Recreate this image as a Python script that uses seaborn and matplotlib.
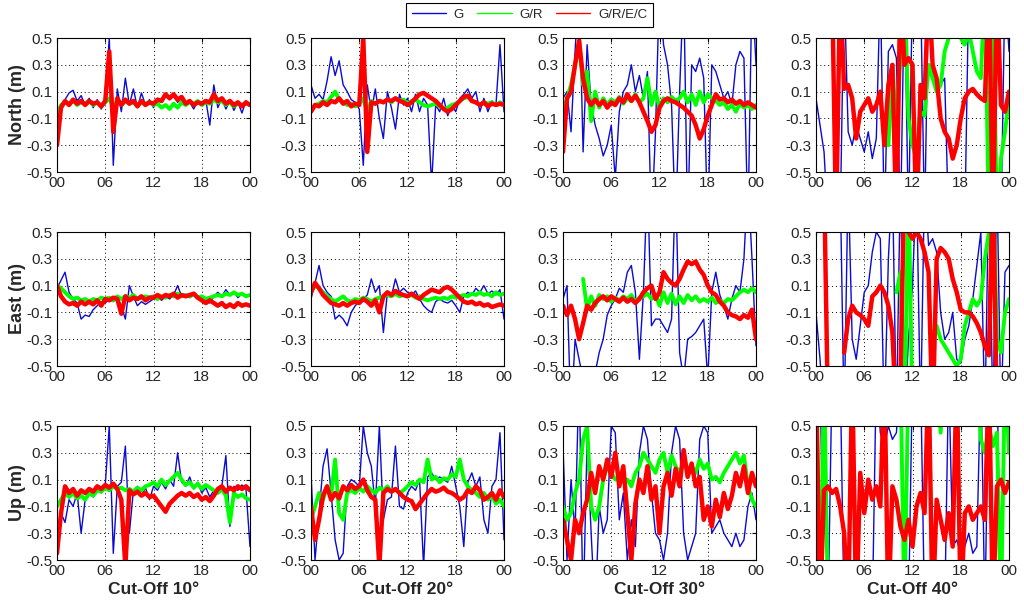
import numpy as np
import matplotlib
matplotlib.use("Agg")
import matplotlib.pyplot as plt
from matplotlib.lines import Line2D
import seaborn as sns

nan = float("nan")

ROW_LABELS = ["North (m)", "East (m)", "Up (m)"]
COL_LABELS = ["Cut-Off 10°", "Cut-Off 20°", "Cut-Off 30°", "Cut-Off 40°"]
SYSTEMS = ["G", "G/R", "G/R/E/C"]
X_TICKS = [0, 6, 12, 18, 24]
X_TICK_LABELS = ["00", "06", "12", "18", "00"]
Y_TICKS = [-0.5, -0.3, -0.1, 0.1, 0.3, 0.5]
Y_TICK_LABELS = ["-0.5", "-0.3", "-0.1", "0.1", "0.3", "0.5"]

# Half-hourly position errors (m), 00h .. 24h (49 values each)
# ---------------- North ----------------
N10_G = [-0.28, -0.02, 0.04, 0.09, 0.11, 0.03, 0.07, 0.00,
         0.05, -0.02, 0.04, -0.03, 0.03, 0.50, -0.45, 0.12,
         -0.05, 0.20, 0.00, 0.12, -0.02, 0.09, 0.00, 0.04,
         -0.02, 0.05, 0.02, 0.08, 0.04, 0.07, 0.02, 0.05,
         0.00, 0.02, -0.03, 0.03, 0.00, 0.04, -0.15, 0.15,
         -0.02, 0.05, -0.03, 0.03, -0.04, 0.02, -0.06, 0.03,
         0.00]
N10_GR = [-0.08, 0.00, 0.02, 0.01, 0.03, 0.00, 0.02, 0.01,
          0.03, 0.00, 0.02, -0.01, 0.02, 0.05, -0.02, 0.03,
          0.00, 0.03, 0.01, 0.02, 0.00, 0.03, 0.01, 0.02,
          0.00, 0.01, -0.02, 0.00, -0.03, 0.01, -0.02, 0.02,
          0.00, 0.02, 0.01, 0.03, 0.00, 0.02, 0.01, 0.04,
          0.02, 0.03, 0.00, 0.02, -0.01, 0.01, 0.00, 0.01,
          0.00]
N10_GREC = [-0.30, -0.02, 0.03, 0.00, 0.04, 0.01, 0.03, 0.00,
            0.03, 0.01, 0.02, -0.01, 0.03, 0.40, -0.20, 0.05,
            0.00, 0.04, 0.01, 0.03, -0.01, 0.03, 0.00, 0.02,
            0.01, 0.04, 0.03, 0.08, 0.05, 0.08, 0.04, 0.06,
            0.01, 0.03, 0.00, 0.02, 0.01, 0.03, 0.02, 0.08,
            0.03, 0.05, 0.01, 0.03, 0.00, 0.02, -0.01, 0.02,
            0.00]

N20_G = [0.15, 0.05, 0.08, 0.04, 0.18, 0.36, 0.22, 0.33,
         0.15, 0.10, 0.04, 0.02, -0.03, -0.45, 0.15, -0.05,
         0.12, -0.10, -0.25, 0.10, -0.02, -0.18, 0.08, 0.00,
         0.05, -0.05, 0.08, -0.05, 0.05, 0.00, -0.60, 0.00,
         -0.05, 0.05, -0.08, 0.00, -0.05, 0.05, 0.08, 0.12,
         0.05, 0.10, -0.05, 0.05, -0.05, 0.03, 0.00, 0.45,
         -0.05]
N20_GR = [-0.05, 0.00, 0.01, 0.03, 0.02, 0.06, 0.10, 0.04,
          0.02, 0.00, 0.01, -0.01, 0.01, 0.05, -0.05, 0.03,
          0.01, 0.03, 0.02, 0.04, 0.02, 0.05, 0.03, 0.04,
          0.01, 0.03, 0.04, 0.02, 0.00, -0.01, 0.00, 0.01,
          -0.01, -0.03, -0.02, 0.00, 0.01, 0.03, 0.05, 0.06,
          0.03, 0.02, 0.00, 0.02, 0.01, 0.02, 0.00, 0.02,
          0.00]
N20_GREC = [-0.05, 0.00, -0.01, 0.02, 0.00, 0.03, 0.02, 0.05,
            0.01, 0.03, -0.01, 0.01, 0.00, 0.50, -0.35, 0.02,
            0.01, 0.03, 0.02, 0.04, 0.03, 0.05, 0.03, 0.02,
            0.00, 0.02, 0.05, 0.08, 0.09, 0.07, 0.05, 0.03,
            0.00, -0.03, -0.05, -0.03, 0.00, 0.03, 0.06, 0.07,
            0.03, 0.02, 0.00, 0.02, -0.01, 0.01, 0.00, 0.01,
            0.00]

N30_G = [0.05, 0.10, -0.20, 0.40, 0.90, -0.35, 0.45, 0.00,
         -0.15, -0.25, -0.38, -0.30, -0.15, -0.55, -0.05, 0.10,
         0.15, 0.30, 0.10, 0.22, 0.05, 0.25, -0.90, -0.20,
         0.90, 0.45, 0.30, 0.00, -0.90, 0.10, 0.90, -0.90,
         0.30, 0.25, 0.35, 0.20, -0.90, 0.30, 0.25, 0.15,
         0.05, 0.10, 0.00, 0.30, 0.40, 0.35, -0.90, 0.90,
         0.30]
N30_GR = [-0.05, 0.05, 0.15, 0.30, 0.45, 0.15, 0.25, -0.12,
          0.10, -0.02, 0.05, 0.00, 0.04, 0.02, 0.06, 0.01,
          0.05, 0.03, 0.08, 0.02, 0.05, 0.20, 0.00, 0.10,
          -0.02, 0.05, 0.02, 0.06, 0.03, 0.05, 0.10, 0.02,
          0.08, 0.00, 0.10, 0.02, 0.08, 0.05, 0.03, 0.00,
          0.02, -0.03, 0.00, -0.05, 0.01, -0.02, 0.00, -0.03,
          0.00]
N30_GREC = [-0.35, 0.05, 0.10, 0.30, 0.48, 0.20, 0.05, 0.00,
            0.04, 0.00, 0.03, -0.02, 0.02, 0.00, 0.05, 0.02,
            0.08, 0.03, 0.07, 0.02, -0.05, -0.12, -0.20, -0.15,
            -0.02, 0.03, 0.05, 0.03, 0.02, 0.00, -0.02, -0.05,
            -0.08, -0.15, -0.25, -0.18, -0.08, 0.00, 0.08, 0.04,
            0.05, 0.02, 0.04, 0.01, 0.03, 0.00, 0.02, 0.00,
            -0.02]

N40_G = [0.05, -0.15, -0.35, -0.90, nan, nan, -0.90, 0.90,
         -0.20, -0.30, -0.15, -0.25, -0.35, -0.20, -0.40, -0.25,
         0.90, -0.90, 0.40, 0.45, 0.35, -0.90, 0.90, -0.90,
         0.90, 0.90, 0.90, -0.90, 0.90, 0.20, 0.10, 0.15,
         0.20, -0.90, -0.90, -0.90, -0.90, -0.90, 0.90, 0.90,
         0.90, 0.90, 0.90, -0.90, -0.90, -0.90, -0.90, 0.90,
         0.40]
N40_GR = [nan, nan, nan, nan, nan, nan, nan, nan,
          nan, nan, nan, nan, nan, nan, nan, nan,
          nan, nan, -0.30, 0.30, -0.20, 0.40, 0.90, -0.10,
          -0.30, -0.40, -0.05, -0.08, 0.30, 0.20, 0.10, 0.15,
          0.40, 0.50, 0.90, 0.60, 0.50, 0.45, 0.55, 0.40,
          0.25, 0.20, 0.90, -0.90, 0.90, -0.90, -0.40, -0.20,
          0.05]
N40_GREC = [nan, nan, nan, nan, 0.90, -0.90, 0.90, 0.12,
            0.15, 0.05, -0.25, -0.05, 0.00, 0.05, -0.05, 0.00,
            0.10, -0.30, 0.15, 0.30, -0.90, 0.90, 0.30, 0.35,
            0.30, -0.90, 0.15, 0.05, 0.90, 0.30, 0.20, -0.10,
            -0.20, -0.25, -0.40, -0.30, -0.10, 0.05, 0.10, 0.12,
            0.08, 0.05, 0.03, 0.90, -0.90, 0.90, 0.00, -0.05,
            0.10]

# ---------------- East ----------------
E10_G = [0.08, 0.14, 0.20, 0.05, 0.00, -0.03, -0.15, -0.12,
         -0.13, -0.08, -0.05, -0.02, -0.03, 0.00, -0.02, 0.01,
         -0.05, -0.15, 0.10, 0.02, -0.05, -0.02, -0.04, -0.02,
         0.00, 0.02, -0.01, 0.02, 0.00, 0.03, 0.10, 0.02,
         0.02, 0.01, 0.03, 0.02, -0.02, -0.01, -0.03, 0.02,
         0.05, 0.02, 0.07, 0.03, 0.05, 0.01, 0.04, 0.02,
         0.03]
E10_GR = [0.10, 0.08, 0.05, 0.02, 0.00, 0.01, -0.01, 0.00,
          -0.02, 0.00, -0.01, 0.01, 0.00, 0.01, -0.01, 0.02,
          0.00, 0.02, 0.01, 0.03, 0.00, 0.01, 0.02, 0.01,
          0.02, 0.00, 0.02, 0.01, 0.03, 0.02, 0.04, 0.02,
          0.03, 0.02, 0.04, 0.01, 0.02, 0.00, 0.01, 0.02,
          0.03, 0.02, 0.04, 0.03, 0.05, 0.03, 0.04, 0.02,
          0.03]
E10_GREC = [0.10, 0.02, -0.02, -0.04, -0.03, -0.05, -0.02, -0.04,
            -0.02, -0.04, -0.01, -0.05, 0.00, -0.01, 0.01, 0.00,
            -0.11, 0.02, -0.01, 0.01, 0.00, 0.02, -0.01, 0.01,
            0.01, 0.03, 0.01, 0.03, 0.02, 0.04, 0.01, 0.03,
            0.02, 0.03, 0.04, 0.01, -0.01, -0.03, -0.01, -0.03,
            -0.05, -0.03, -0.06, -0.04, -0.06, -0.03, -0.05, -0.04,
            -0.05]

E20_G = [0.00, 0.12, 0.25, 0.10, 0.05, 0.02, -0.15, -0.12,
         -0.15, -0.20, -0.10, -0.05, -0.02, 0.00, 0.03, 0.15,
         0.05, 0.10, -0.25, 0.05, 0.02, 0.15, 0.05, 0.08,
         0.05, 0.03, 0.06, 0.00, -0.05, -0.08, -0.10, -0.02,
         0.00, -0.02, -0.03, -0.01, -0.05, -0.10, 0.02, 0.05,
         0.03, 0.08, 0.05, 0.10, 0.04, 0.06, 0.03, 0.07,
         -0.15]
E20_GR = [0.05, 0.10, 0.08, 0.05, 0.02, 0.00, -0.02, 0.00,
          0.02, -0.01, -0.02, 0.00, -0.01, 0.01, 0.00, -0.02,
          0.00, 0.01, 0.02, 0.03, 0.02, 0.04, 0.02, 0.03,
          0.02, 0.03, 0.01, 0.02, 0.00, -0.01, 0.00, 0.01,
          0.00, 0.01, 0.00, 0.02, 0.01, 0.02, 0.03, 0.02,
          0.04, 0.03, 0.05, 0.03, 0.04, 0.02, 0.05, 0.03,
          0.04]
E20_GREC = [0.05, 0.12, 0.08, 0.03, 0.00, -0.03, -0.04, -0.05,
            -0.03, -0.05, -0.03, -0.02, -0.03, 0.00, -0.02, -0.05,
            -0.01, -0.10, 0.02, 0.05, 0.03, 0.06, 0.04, 0.03,
            0.02, 0.04, 0.02, 0.00, 0.03, 0.05, 0.07, 0.06,
            0.05, 0.08, 0.09, 0.07, 0.04, 0.01, -0.02, -0.03,
            -0.02, -0.04, -0.03, -0.05, -0.04, -0.06, -0.05, -0.04,
            -0.05]

E30_G = [0.00, 0.10, -0.90, -0.30, -0.45, -0.60, -0.70, -0.60,
         -0.55, -0.40, -0.30, -0.12, -0.05, 0.00, 0.08, 0.05,
         0.20, 0.25, 0.05, -0.45, 0.05, 0.90, -0.20, -0.15,
         -0.15, -0.20, -0.25, -0.15, 0.90, -0.40, -0.60, -0.30,
         -0.28, -0.25, -0.20, -0.15, -0.60, 0.05, 0.20, 0.03,
         -0.05, -0.15, 0.00, 0.10, 0.05, 0.30, 0.90, 0.30,
         -0.35]
E30_GR = [nan, nan, nan, nan, nan, 0.15, -0.08, 0.02,
          -0.05, 0.03, 0.00, 0.02, -0.02, 0.01, -0.01, 0.02,
          0.00, 0.03, -0.02, 0.01, 0.02, 0.04, 0.00, 0.03,
          -0.05, 0.05, -0.03, 0.04, -0.04, 0.02, -0.03, 0.03,
          -0.01, 0.02, -0.02, 0.00, -0.02, 0.01, -0.03, -0.01,
          -0.03, 0.00, -0.01, 0.02, 0.05, 0.07, 0.05, 0.08,
          0.05]
E30_GREC = [-0.05, -0.12, -0.05, -0.15, -0.30, -0.18, -0.05, -0.08,
            -0.03, 0.00, 0.02, -0.01, 0.02, 0.00, -0.02, 0.01,
            -0.02, 0.00, -0.03, 0.00, 0.05, 0.08, 0.10, 0.00,
            0.05, 0.20, 0.15, 0.12, 0.10, 0.15, 0.22, 0.28,
            0.26, 0.28, 0.22, 0.18, 0.10, 0.05, 0.03, -0.02,
            -0.05, -0.10, -0.12, -0.13, -0.15, -0.12, -0.14, -0.08,
            -0.30]

E40_G = [-0.10, -0.45, -0.90, nan, nan, nan, 0.90, -0.90,
         0.90, -0.30, -0.45, -0.20, 0.05, 0.10, 0.35, 0.50,
         0.45, -0.90, 0.30, 0.90, -0.90, 0.90, -0.90, -0.30,
         0.10, 0.90, -0.90, 0.90, 0.40, 0.45, 0.35, -0.10,
         -0.30, -0.25, -0.10, -0.45, -0.48, -0.30, -0.20, 0.00,
         0.25, 0.50, -0.90, 0.90, -0.90, 0.90, -0.90, 0.20,
         0.25]
E40_GR = [nan, nan, nan, nan, nan, nan, nan, nan,
          nan, nan, nan, nan, nan, nan, nan, nan,
          nan, nan, nan, nan, 0.05, 0.20, -0.90, 0.90,
          -0.90, nan, nan, nan, nan, -0.25, -0.20, -0.30,
          -0.35, -0.40, -0.45, -0.50, -0.45, -0.20, -0.10, 0.00,
          -0.05, 0.00, 0.30, 0.50, 0.90, -0.30, -0.40, -0.10,
          0.00]
E40_GREC = [nan, nan, 0.90, -0.90, nan, nan, nan, -0.40,
            -0.15, -0.05, -0.10, -0.12, -0.15, -0.20, 0.02, 0.05,
            0.10, 0.05, -0.05, -0.25, -0.90, -0.60, 0.90, 0.50,
            0.45, 0.50, 0.45, 0.35, 0.20, -0.90, 0.30, 0.38,
            0.35, 0.30, 0.15, 0.05, -0.08, -0.10, -0.10, -0.13,
            -0.18, -0.25, -0.35, -0.42, 0.90, -0.90, nan, nan,
            nan]

# ---------------- Up ----------------
U10_G = [-0.40, -0.15, -0.22, -0.05, -0.10, 0.00, -0.30, -0.05,
         0.02, -0.03, 0.05, 0.00, 0.06, 0.50, -0.45, 0.05,
         0.08, 0.35, -0.30, 0.02, 0.05, -0.02, 0.04, -0.05,
         0.05, 0.02, 0.08, 0.03, 0.10, 0.05, 0.30, 0.08,
         0.05, 0.12, 0.03, 0.08, 0.00, 0.04, -0.03, 0.02,
         0.00, 0.05, 0.28, -0.25, 0.05, 0.02, 0.06, 0.03,
         -0.40]
U10_GR = [-0.10, -0.05, 0.00, -0.03, 0.00, -0.04, -0.02, -0.05,
          0.00, -0.02, 0.02, 0.01, 0.04, 0.02, 0.05, 0.03,
          0.04, 0.02, 0.03, 0.01, 0.04, 0.02, 0.05, 0.06,
          0.08, 0.05, 0.10, 0.06, 0.09, 0.12, 0.15, 0.10,
          0.06, 0.08, 0.04, 0.07, 0.03, 0.06, 0.04, 0.02,
          0.00, 0.03, -0.02, -0.22, 0.00, -0.03, -0.01, -0.04,
          -0.05]
U10_GREC = [-0.45, -0.15, 0.05, 0.00, 0.03, -0.02, 0.02, 0.00,
            0.03, 0.01, 0.05, 0.03, 0.06, 0.04, 0.07, 0.03,
            -0.05, -0.55, 0.02, -0.01, 0.01, -0.02, 0.00, -0.03,
            -0.02, -0.06, -0.10, -0.14, -0.08, -0.05, -0.02, 0.00,
            -0.02, 0.00, -0.03, -0.01, -0.05, -0.03, -0.06, -0.02,
            0.03, 0.05, 0.01, 0.04, 0.02, 0.05, 0.03, 0.05,
            0.02]

U20_G = [0.15, -0.50, -0.15, 0.20, 0.33, 0.00, -0.35, -0.50,
         -0.45, 0.05, 0.10, 0.08, 0.05, 0.50, 0.30, 0.20,
         -0.10, 0.50, -0.20, -0.05, -0.03, 0.35, -0.10, -0.12,
         0.00, 0.05, 0.02, 0.10, -0.55, 0.12, 0.15, 0.10,
         0.12, 0.10, 0.08, 0.20, 0.05, -0.10, -0.40, 0.08,
         0.15, 0.05, 0.12, -0.20, -0.30, 0.05, 0.10, 0.45,
         -0.35]
U20_GR = [-0.20, -0.10, 0.00, -0.05, 0.05, -0.02, 0.25, -0.15,
          -0.20, 0.00, 0.02, 0.00, 0.04, 0.01, 0.05, 0.02,
          0.00, 0.04, 0.02, 0.05, 0.01, 0.03, 0.00, 0.02,
          0.05, 0.08, 0.06, 0.10, 0.08, 0.25, 0.10, 0.12,
          0.08, 0.11, 0.10, 0.14, 0.12, 0.25, 0.10, 0.05,
          0.02, 0.00, -0.03, 0.00, -0.05, -0.02, -0.08, -0.05,
          -0.10]
U20_GREC = [-0.10, -0.35, -0.20, -0.02, 0.05, -0.05, 0.00, -0.04,
            0.05, 0.02, 0.06, 0.03, 0.05, 0.10, 0.02, -0.03,
            -0.05, -0.55, 0.00, 0.03, 0.01, 0.03, 0.00, -0.03,
            -0.05, -0.06, -0.12, -0.08, -0.04, 0.00, 0.03, 0.01,
            0.02, 0.04, 0.01, 0.00, -0.02, -0.05, -0.03, 0.02,
            0.00, 0.05, 0.02, -0.05, -0.03, 0.00, -0.05, 0.02,
            -0.03]

U30_G = [0.35, -0.50, 0.10, -0.30, 0.90, -0.90, 0.40, -0.30,
         -0.90, -0.10, -0.30, -0.20, 0.50, 0.45, -0.20, 0.00,
         -0.50, -0.20, -0.40, 0.30, 0.50, 0.40, 0.00, -0.30,
         -0.35, -0.50, -0.30, 0.30, 0.50, 0.40, -0.30, -0.50,
         -0.40, -0.30, 0.40, 0.50, 0.45, -0.30, -0.25, -0.20,
         -0.30, -0.35, -0.40, -0.30, -0.40, -0.35, -0.10, 0.00,
         -0.20]
U30_GR = [-0.10, -0.20, -0.15, 0.00, 0.10, 0.40, 0.50, -0.10,
          -0.20, -0.10, 0.10, 0.20, 0.15, 0.10, 0.12, 0.08,
          0.10, 0.05, 0.15, 0.20, 0.30, 0.25, 0.20, 0.15,
          0.25, 0.30, 0.15, 0.28, 0.20, 0.15, 0.22, 0.18,
          0.20, 0.15, 0.25, 0.18, 0.22, 0.10, 0.12, 0.08,
          0.15, 0.20, 0.25, 0.30, 0.22, 0.28, 0.05, -0.05,
          -0.10]
U30_GREC = [-0.20, -0.35, -0.50, -0.20, -0.30, -0.15, -0.05, 0.15,
            0.00, 0.20, 0.10, 0.25, 0.12, 0.30, 0.05, 0.20,
            -0.15, -0.50, -0.08, 0.10, 0.00, 0.20, -0.05, 0.05,
            -0.30, 0.05, 0.15, -0.02, 0.18, 0.05, 0.32, 0.12,
            0.22, 0.05, 0.12, -0.20, -0.10, -0.25, -0.05, -0.18,
            0.00, -0.12, -0.02, 0.15, 0.05, 0.20, 0.00, 0.15,
            0.05]

U40_G = [0.90, 0.90, -0.90, -0.90, 0.90, 0.90, 0.90, -0.90,
         -0.90, -0.90, -0.90, -0.90, -0.90, -0.90, -0.90, 0.90,
         0.45, 0.35, 0.50, 0.40, 0.45, 0.90, -0.90, -0.90,
         0.90, 0.90, 0.90, -0.90, -0.90, -0.90, -0.90, -0.90,
         -0.90, 0.90, -0.40, -0.35, -0.45, -0.40, -0.30, -0.45,
         -0.40, 0.90, -0.90, 0.90, 0.90, 0.90, -0.90, 0.90,
         0.90]
U40_GR = [0.90, -0.90, 0.90, -0.90, nan, nan, nan, nan,
          nan, nan, nan, nan, nan, nan, nan, nan,
          nan, nan, nan, nan, nan, 0.90, -0.90, 0.90,
          nan, nan, nan, nan, nan, nan, 0.90, 0.45,
          0.90, nan, nan, nan, nan, nan, nan, nan,
          0.90, 0.40, 0.30, 0.50, 0.35, 0.45, -0.90, 0.90,
          0.30]
U40_GREC = [0.90, -0.90, 0.02, 0.05, 0.00, 0.03, -0.10, -0.30,
            -0.90, 0.90, -0.90, 0.15, -0.15, 0.10, -0.05, 0.05,
            -0.10, 0.90, -0.90, 0.05, -0.05, -0.25, -0.35, -0.20,
            -0.40, -0.10, 0.00, -0.15, 0.90, -0.90, -0.05, -0.20,
            -0.35, -0.15, -0.40, 0.90, -0.90, -0.15, -0.10, -0.20,
            -0.15, -0.10, -0.20, 0.90, -0.90, 0.05, 0.10, 0.00,
            0.08]

PANELS = [
    [(N10_G, N10_GR, N10_GREC), (N20_G, N20_GR, N20_GREC),
     (N30_G, N30_GR, N30_GREC), (N40_G, N40_GR, N40_GREC)],
    [(E10_G, E10_GR, E10_GREC), (E20_G, E20_GR, E20_GREC),
     (E30_G, E30_GR, E30_GREC), (E40_G, E40_GR, E40_GREC)],
    [(U10_G, U10_GR, U10_GREC), (U20_G, U20_GR, U20_GREC),
     (U30_G, U30_GR, U30_GREC), (U40_G, U40_GR, U40_GREC)],
]

COLORS = ["#0a0ad2", "#00ff00", "#ff0000"]
WIDTHS = [1.0, 2.8, 3.2]

sns.set_style("white")
plt.rcParams["font.family"] = ["Liberation Sans", "DejaVu Sans"]

fig = plt.figure(figsize=(10.24, 6.02), dpi=100)

LEFTS = [57, 311, 563, 816]
BOTTOMS = [172, 366, 560]
W, H = 193, 134


def draw_series(ax, values, color, lw):
    y = np.asarray(values, dtype=float)
    t = np.linspace(0, 24, len(y))
    idx = np.where(~np.isnan(y))[0]
    if len(idx) == 0:
        return
    runs = np.split(idx, np.where(np.diff(idx) != 1)[0] + 1)
    for r in runs:
        if len(r) < 2:
            continue
        sns.lineplot(x=t[r], y=y[r], ax=ax, color=color, linewidth=lw,
                     sort=False, estimator=None, legend=False)


for ri in range(3):
    for ci in range(4):
        ax = fig.add_axes([LEFTS[ci] / 1024, 1 - BOTTOMS[ri] / 602, W / 1024, H / 602])
        for series, col, lw in zip(PANELS[ri][ci], COLORS, WIDTHS):
            draw_series(ax, series, col, lw)
        ax.set_xlim(0, 24)
        ax.set_ylim(-0.5, 0.5)
        ax.set_xticks(X_TICKS)
        ax.set_xticklabels(X_TICK_LABELS)
        ax.set_yticks(Y_TICKS)
        ax.set_yticklabels(Y_TICK_LABELS)
        ax.tick_params(labelsize=11, direction="in", length=3, pad=3,
                       top=True, right=True, color="black")
        ax.grid(True, linestyle=(0, (1, 3)), color="black", linewidth=0.7)
        for s in ax.spines.values():
            s.set_color("black")
            s.set_linewidth(0.8)
        ax.set_xlabel("")
        ax.set_ylabel("")
        if ci == 0:
            ax.set_ylabel(ROW_LABELS[ri], fontsize=13, fontweight="bold")
            ax.yaxis.set_label_coords(-0.16, 0.5)
        if ri == 2:
            ax.set_xlabel(COL_LABELS[ci], fontsize=12.5, fontweight="bold")
            ax.xaxis.set_label_coords(0.5, -0.165)

handles = [Line2D([], [], color=c, linewidth=1.0) for c in COLORS]
leg = fig.legend(handles, SYSTEMS, loc="center", bbox_to_anchor=(529.5 / 1024, 1 - 15 / 602),
                 ncol=3, fontsize=9.5, frameon=True, fancybox=False, edgecolor="black",
                 framealpha=1, handlelength=2.6, handletextpad=0.6, columnspacing=1.0,
                 borderpad=0.45)
leg.get_frame().set_linewidth(0.8)

fig.savefig("out.png", dpi=100)
